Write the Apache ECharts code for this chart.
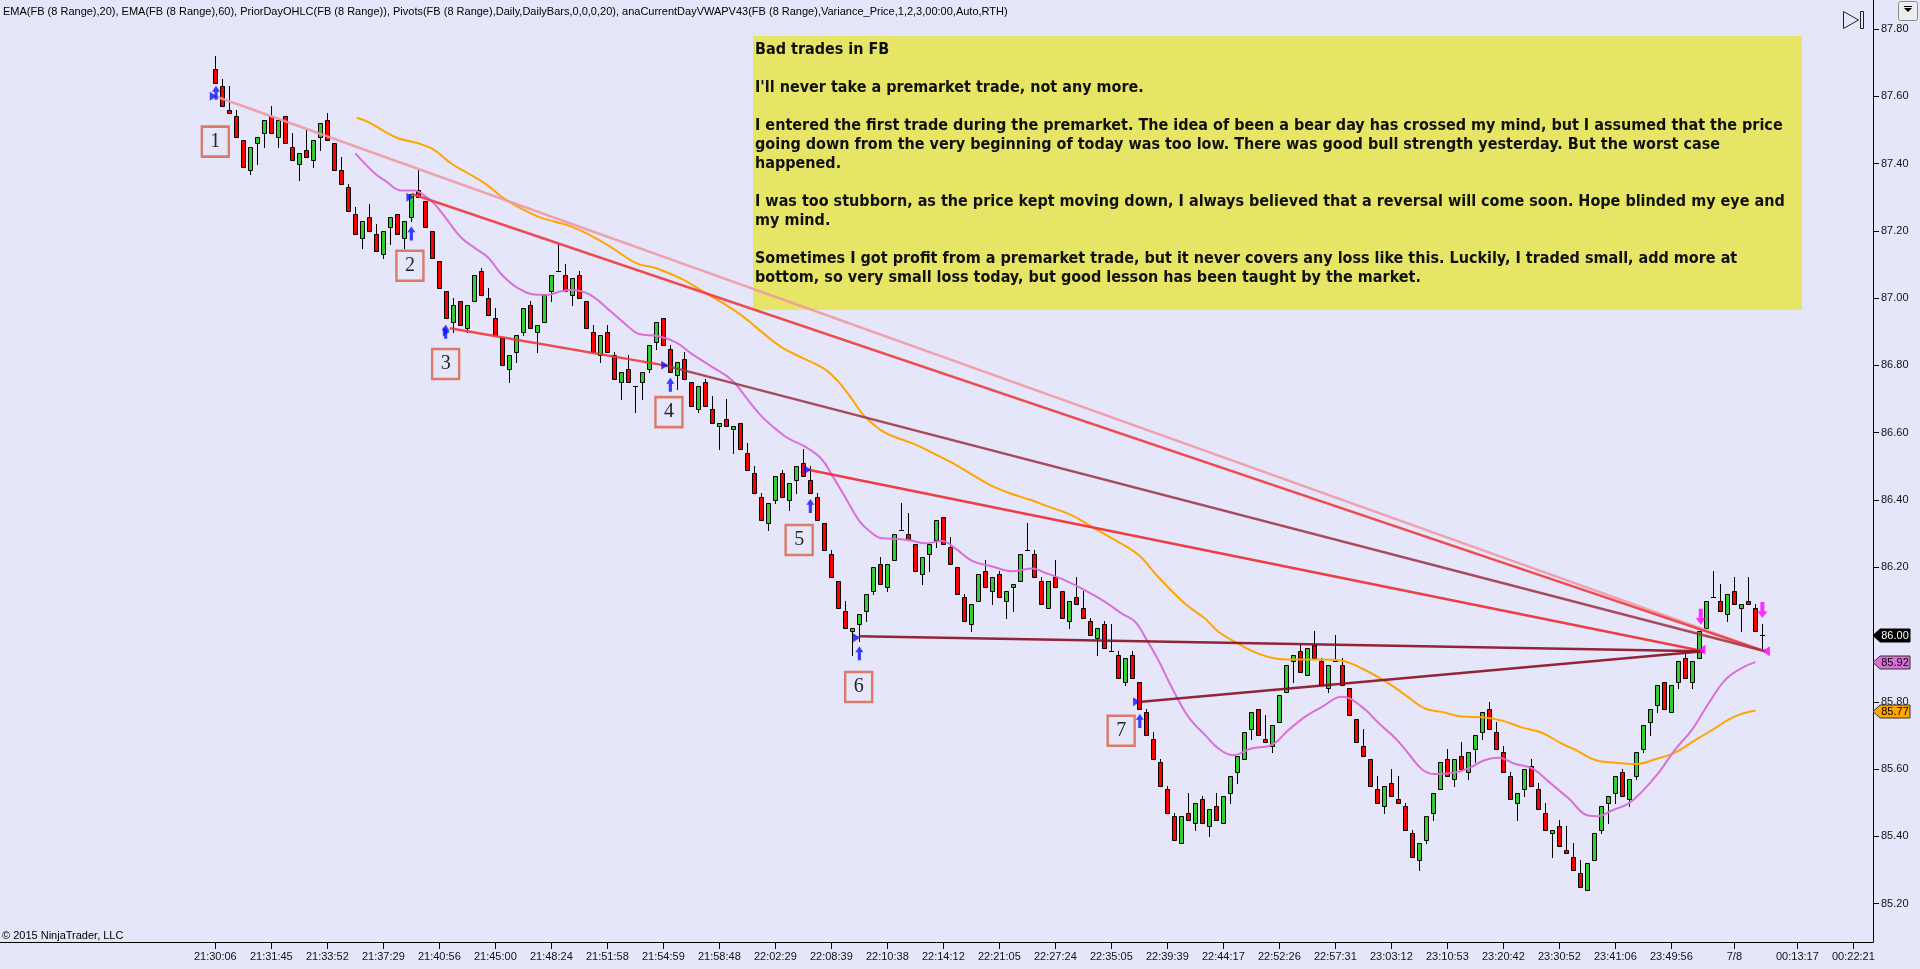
<!DOCTYPE html>
<html><head><meta charset="utf-8">
<script src="https://cdn.jsdelivr.net/npm/echarts@6/dist/echarts.min.js"></script>
<style>html,body{margin:0;padding:0;background:#E6E6FA;overflow:hidden}#c{width:1920px;height:969px}</style>
</head><body><div id="c"></div>
<script>
// ---------- DATA ----------
const opens = [
87.68,87.63,87.56,87.54,87.47,87.38,87.46,87.49,87.54,87.48,
87.54,87.45,87.40,87.44,87.41,87.48,87.53,87.46,87.38,87.33,
87.25,87.18,87.24,87.19,87.13,87.21,87.25,87.18,87.24,87.32,
87.29,87.20,87.11,87.02,86.93,86.99,86.91,86.99,87.08,87.00,
86.94,86.88,86.79,86.84,86.90,86.98,86.90,86.93,87.02,87.08,
87.07,87.01,87.07,86.99,86.90,86.83,86.90,86.83,86.75,86.79,
86.74,86.75,86.79,86.87,86.94,86.85,86.77,86.82,86.75,86.67,
86.75,86.67,86.62,86.64,86.61,86.63,86.54,86.48,86.41,86.33,
86.40,86.48,86.40,86.46,86.51,86.46,86.41,86.33,86.24,86.16,
86.07,86.01,86.03,86.07,86.13,86.21,86.14,86.22,86.31,86.30,
86.27,86.18,86.24,86.28,86.35,86.26,86.20,86.11,86.03,86.10,
86.19,86.13,86.18,86.10,86.14,86.16,86.25,86.24,86.16,86.08,
86.17,86.13,86.04,86.11,86.08,86.04,85.99,86.03,85.95,85.94,
85.86,85.94,85.86,85.77,85.69,85.62,85.54,85.46,85.38,85.47,
85.44,85.51,85.43,85.49,85.44,85.53,85.59,85.63,85.72,85.78,
85.69,85.67,85.74,85.83,85.92,85.95,85.88,85.97,85.92,85.84,
85.92,85.91,85.84,85.75,85.67,85.63,85.54,85.49,85.56,85.51,
85.49,85.41,85.33,85.39,85.47,85.54,85.63,85.57,85.64,85.59,
85.66,85.71,85.78,85.71,85.65,85.58,85.50,85.54,85.61,85.54,
85.47,85.41,85.43,85.36,85.34,85.29,85.24,85.33,85.42,85.50,
85.53,85.59,85.51,85.58,85.66,85.74,85.79,85.86,85.77,85.86,
85.93,85.86,85.93,86.02,86.11,86.10,86.06,86.13,86.08,86.10,
86.08,86.00];
const highs = [
87.72,87.65,87.63,87.56,87.47,87.45,87.48,87.53,87.57,87.53,
87.54,87.49,87.43,87.50,87.47,87.52,87.55,87.46,87.42,87.34,
87.27,87.23,87.28,87.22,87.20,87.24,87.25,87.23,87.31,87.38,
87.29,87.20,87.11,87.02,87.00,86.99,86.98,87.07,87.09,87.03,
86.97,86.88,86.83,86.89,86.97,86.99,86.92,87.01,87.07,87.16,
87.10,87.06,87.08,86.99,86.92,86.89,86.92,86.84,86.78,86.83,
86.74,86.78,86.86,86.93,86.94,86.86,86.81,86.84,86.75,86.74,
86.76,86.71,86.63,86.70,86.62,86.63,86.57,86.50,86.42,86.39,
86.47,86.49,86.45,86.50,86.55,86.50,86.42,86.33,86.25,86.16,
86.10,86.02,86.06,86.12,86.20,86.23,86.21,86.30,86.39,86.36,
86.27,86.23,86.27,86.34,86.35,86.29,86.20,86.12,86.09,86.18,
86.22,86.17,86.19,86.13,86.15,86.24,86.33,86.25,86.17,86.16,
86.22,86.13,86.10,86.17,86.13,86.05,86.02,86.04,86.03,85.95,
85.93,85.95,85.86,85.78,85.71,85.63,85.55,85.47,85.46,85.53,
85.50,85.52,85.48,85.53,85.52,85.58,85.64,85.71,85.77,85.78,
85.76,85.73,85.82,85.91,85.94,85.97,85.96,86.01,85.93,85.91,
86.00,85.93,85.84,85.75,85.72,85.63,85.58,85.55,85.60,85.58,
85.50,85.42,85.38,85.46,85.53,85.62,85.66,85.63,85.68,85.65,
85.70,85.77,85.80,85.74,85.67,85.59,85.53,85.60,85.63,85.56,
85.50,85.42,85.45,85.43,85.38,85.33,85.32,85.41,85.49,85.52,
85.58,85.60,85.57,85.65,85.73,85.78,85.85,85.86,85.85,85.92,
85.95,85.92,86.01,86.10,86.19,86.15,86.12,86.17,86.09,86.17,
86.09,86.03];
const lows = [
87.64,87.57,87.55,87.48,87.39,87.37,87.40,87.45,87.49,87.45,
87.46,87.41,87.35,87.42,87.39,87.44,87.47,87.38,87.34,87.26,
87.19,87.15,87.20,87.14,87.12,87.16,87.19,87.15,87.23,87.30,
87.21,87.12,87.03,86.94,86.90,86.92,86.90,86.99,87.01,86.95,
86.89,86.80,86.75,86.81,86.89,86.91,86.84,86.93,86.99,87.08,
87.02,86.98,87.00,86.91,86.84,86.81,86.84,86.76,86.70,86.75,
86.66,86.70,86.78,86.85,86.86,86.78,86.73,86.76,86.68,86.66,
86.68,86.63,86.55,86.62,86.54,86.55,86.49,86.42,86.34,86.31,
86.39,86.41,86.37,86.42,86.47,86.42,86.34,86.25,86.17,86.08,
86.02,85.94,85.98,86.04,86.12,86.15,86.13,86.22,86.31,86.28,
86.19,86.15,86.19,86.26,86.27,86.21,86.12,86.04,86.01,86.10,
86.14,86.09,86.11,86.05,86.07,86.16,86.25,86.17,86.09,86.08,
86.14,86.05,86.02,86.09,86.05,86.00,85.94,85.96,85.95,85.87,
85.85,85.87,85.78,85.70,85.63,85.55,85.47,85.39,85.38,85.45,
85.42,85.44,85.40,85.45,85.44,85.50,85.56,85.63,85.69,85.70,
85.68,85.65,85.74,85.83,85.86,85.89,85.88,85.93,85.85,85.83,
85.92,85.85,85.76,85.68,85.64,85.55,85.50,85.47,85.52,85.50,
85.42,85.34,85.30,85.38,85.45,85.54,85.58,85.55,85.60,85.57,
85.62,85.69,85.72,85.66,85.59,85.51,85.45,85.52,85.55,85.48,
85.42,85.34,85.37,85.35,85.30,85.25,85.24,85.33,85.41,85.44,
85.50,85.52,85.49,85.57,85.65,85.70,85.77,85.78,85.77,85.84,
85.87,85.84,85.93,86.02,86.11,86.07,86.04,86.09,86.01,86.09,
86.01,85.95];
const closes = [
87.64,87.57,87.55,87.48,87.39,87.45,87.48,87.53,87.49,87.53,
87.46,87.41,87.43,87.42,87.47,87.52,87.47,87.38,87.34,87.26,
87.19,87.23,87.20,87.14,87.20,87.24,87.19,87.23,87.31,87.30,
87.21,87.12,87.03,86.94,86.98,86.92,86.98,87.07,87.01,86.95,
86.89,86.80,86.83,86.89,86.97,86.91,86.92,87.01,87.07,87.08,
87.02,87.06,87.00,86.91,86.84,86.89,86.84,86.76,86.78,86.75,
86.74,86.78,86.86,86.93,86.86,86.78,86.81,86.76,86.68,86.74,
86.68,86.63,86.63,86.62,86.62,86.55,86.49,86.42,86.34,86.39,
86.47,86.41,86.45,86.50,86.47,86.42,86.34,86.25,86.17,86.08,
86.02,86.02,86.06,86.12,86.20,86.15,86.21,86.30,86.31,86.28,
86.19,86.23,86.27,86.34,86.27,86.21,86.12,86.04,86.09,86.18,
86.14,86.17,86.11,86.13,86.15,86.24,86.25,86.17,86.09,86.16,
86.14,86.05,86.10,86.09,86.05,86.00,86.02,85.96,85.95,85.87,
85.93,85.87,85.78,85.70,85.63,85.55,85.47,85.39,85.46,85.45,
85.50,85.44,85.48,85.45,85.52,85.58,85.64,85.71,85.77,85.70,
85.68,85.73,85.82,85.91,85.94,85.89,85.96,85.93,85.85,85.91,
85.92,85.85,85.76,85.68,85.64,85.55,85.50,85.55,85.52,85.50,
85.42,85.34,85.38,85.46,85.53,85.62,85.58,85.63,85.60,85.65,
85.70,85.77,85.72,85.66,85.59,85.51,85.53,85.60,85.55,85.48,
85.42,85.42,85.37,85.35,85.30,85.25,85.32,85.41,85.49,85.52,
85.58,85.52,85.57,85.65,85.73,85.78,85.85,85.78,85.85,85.92,
85.87,85.92,86.01,86.10,86.11,86.07,86.12,86.09,86.09,86.09,
86.01,86.00];

const tickIndex = [0,8,16,24,32,40,48,56,64,72,80,88,96,104,112,120,128,136,144,152,160,168,176,184,192,200,208,217,226,234];
const tickLabels = ['21:30:06','21:31:45','21:33:52','21:37:29','21:40:56','21:45:00','21:48:24','21:51:58','21:54:59','21:58:48',
  '22:02:29','22:08:39','22:10:38','22:14:12','22:21:05','22:27:24','22:35:05','22:39:39','22:44:17','22:52:26',
  '22:57:31','23:03:12','23:10:53','23:20:42','23:30:52','23:41:06','23:49:56','7/8','00:13:17','00:22:21'];
const priceTicks = [85.2,85.4,85.6,85.8,86.0,86.2,86.4,86.6,86.8,87.0,87.2,87.4,87.6,87.8];

// EMA(20) - violet
const ema20 = [[20,87.43],[22.8,87.37],[24.2,87.35],[26.6,87.32],[28.5,87.32],[29.5,87.31],[31.3,87.28],[33.2,87.23],[35.1,87.18],[37,87.15],
 [39,87.12],[40.9,87.07],[43.2,87.03],[46,87.01],[47.5,87.01],[49.4,87.02],[51,87.024],[53.5,87.01],[56.5,86.96],[59,86.915],
 [60.5,86.893],[63.2,86.887],[65.8,86.868],[68,86.835],[70.9,86.796],[73.8,86.756],[76.1,86.697],[78.1,86.647],[80,86.612],[81.9,86.582],
 [84.1,86.56],[86.5,86.524],[88.2,86.47],[90.2,86.40],[91.9,86.34],[93.3,86.31],[95.2,86.286],[97.6,86.284],[99.5,86.279],[101.4,86.271],
 [103.8,86.278],[105.7,86.256],[108.1,86.219],[110.9,86.203],[113.8,86.188],[116.7,86.196],[118.6,86.183],[121.4,86.161],[124.2,86.132],[127.1,86.097],
 [129.5,86.062],[131.4,86.038],[132.8,85.993],[134.7,85.924],[136.6,85.844],[139,85.755],[141.4,85.701],[143.3,85.661],[145.4,85.641],[148,85.661],
 [150.9,85.672],[153.3,85.716],[155.7,85.756],[158.1,85.785],[160.9,85.815],[163.8,85.785],[166.2,85.736],[168.6,85.691],[170.4,85.647],[172.4,85.599],
 [174.2,85.585],[177.1,85.590],[179,85.602],[181.4,85.627],[183.3,85.634],[185.7,85.615],[188.1,85.602],[190.5,85.562],[193.3,85.513],[196.1,85.462],
 [197.5,85.460],[199.5,85.477],[201.9,85.498],[203.8,85.533],[206.1,85.587],[208.5,85.657],[210.9,85.716],[213.3,85.795],[215.7,85.865],[218.1,85.901],[220,85.918]];
// EMA(60) - orange
const ema60 = [[20.2,87.536],[21.8,87.524],[24.2,87.495],[26.1,87.475],[29,87.46],[31.3,87.44],[33.7,87.40],[36.1,87.371],[38.5,87.341],[40.9,87.301],
 [42.8,87.276],[46.1,87.242],[48.5,87.227],[50.7,87.214],[53.5,87.187],[56.4,87.153],[60.2,87.103],[63.1,87.088],[66.9,87.054],[69.7,87.019],
 [72.6,86.984],[75.4,86.945],[78.3,86.895],[81.1,86.851],[84,86.821],[86.9,86.791],[88.8,86.756],[90.7,86.707],[92.6,86.652],[95.4,86.603],
 [98.3,86.578],[100.2,86.563],[103,86.534],[105.4,86.509],[107.8,86.479],[110.7,86.444],[113.5,86.420],[116.6,86.399],[118.5,86.384],[122.3,86.355],
 [125.2,86.320],[129,86.275],[131.9,86.236],[134.7,86.171],[138.5,86.092],[141.4,86.047],[143.3,86.008],[146.1,85.973],[149,85.943],[151.4,85.929],
 [154.2,85.926],[158.1,85.926],[160.9,85.922],[163.8,85.899],[167.6,85.855],[170,85.820],[172.8,85.780],[175.2,85.770],[178.1,85.756],[181,85.754],
 [183.8,85.744],[186.6,85.724],[189.5,85.708],[192.3,85.676],[194.5,85.655],[197.1,85.627],[200,85.619],[202.8,85.615],[205.7,85.629],[208.5,85.649],
 [211.4,85.686],[214.2,85.721],[217,85.756],[220,85.774]];

// trade execution lines: [barIndex, price] start -> end
const tradeStarts = [[0,87.60],[28,87.31],[33.5,86.91],[64.2,86.80],[84.7,86.49],[91.9,85.995],[132.3,85.80]];
const tradeEnds   = [[221.4,85.95],[221.4,85.95],[64.2,86.80],[221.4,85.95],[212.6,85.95],[212.6,85.95],[212.6,85.95]];
const entryMarks = [[-0.3,87.60],[27.8,87.30],[33.0,86.90],[64.2,86.80],[84.6,86.49],[91.6,85.99],[131.6,85.80]];
const entryArrows = [[0.1,87.61],[28,87.192],[32.9,86.90],[65,86.742],[85,86.382],[92,85.944],[132.06,85.743]];
const exitArrows = [[212.2,86.053],[221.0,86.073]];
const exitMarks = [[212.3,85.955],[221.5,85.95]];
const tradeNumbers = ['1','2','3','4','5','6','7'];
const numberPos = [[0,87.465],[27.8,87.096],[32.9,86.804],[64.8,86.661],[83.4,86.281],[91.9,85.844],[129.4,85.714]];

const headerText = 'EMA(FB (8 Range),20), EMA(FB (8 Range),60), PriorDayOHLC(FB (8 Range)), Pivots(FB (8 Range),Daily,DailyBars,0,0,0,20), anaCurrentDayVWAPV43(FB (8 Range),Variance_Price,1,2,3,00:00,Auto,RTH)';
const noteLines = [
 'Bad trades in FB','',
 "I'll never take a premarket trade, not any more.",'',
 'I entered the first trade during the premarket. The idea of been a bear day has crossed my mind, but I assumed that the price',
 'going down from the very beginning of today was too low. There was good bull strength yesterday. But the worst case',
 'happened.','',
 'I was too stubborn, as the price kept moving down, I always believed that a reversal will come soon. Hope blinded my eye and',
 'my mind.','',
 'Sometimes I got profit from a premarket trade, but it never covers any loss like this. Luckily, I traded small, add more at',
 'bottom, so very small loss today, but good lesson has been taught by the market.'];
const copyright = '\u00A9 2015 NinjaTrader, LLC';

// ---------- CHART ----------
const tradeColors = ['#EE9AA2','#EE3A3E','#EE3A3E','#A03A48','#EE2A30','#8A0E22','#8A0E22'];
const chart = echarts.init(document.getElementById('c'), null, {renderer:'canvas'});
const candles = opens.map((o,i)=>[i,o,highs[i],lows[i],closes[i]]);
const FONT = '"Liberation Sans", Arial, sans-serif';

function renderCandle(params, api){
  const x=api.value(0), o=api.value(1), h=api.value(2), l=api.value(3), c=api.value(4);
  const pO=api.coord([x,o]), pC=api.coord([x,c]), pH=api.coord([x,h]), pL=api.coord([x,l]);
  const px=Math.round(pO[0]);
  const cx=px+0.5;
  const ch=[{type:'line',shape:{x1:cx,y1:Math.round(pH[1]),x2:cx,y2:Math.round(pL[1])+1},style:{stroke:'#000',lineWidth:1}}];
  if (Math.abs(o-c)<1e-9){
    const y=Math.round(pO[1])+0.5;
    ch.push({type:'line',shape:{x1:px-2,y1:y,x2:px+3,y2:y},style:{stroke:'#000',lineWidth:1}});
  } else {
    const t=Math.round(Math.min(pO[1],pC[1]))+0.5, b=Math.round(Math.max(pO[1],pC[1]))+0.5;
    ch.push({type:'rect',shape:{x:px-1.5,y:t,width:4,height:b-t},style:{fill:c>o?'#32CD32':'#FF0000',stroke:'#000',lineWidth:1}});
  }
  return {type:'group',children:ch};
}

const series = [
  {type:'custom',name:'bars',renderItem:renderCandle,data:candles,encode:{x:0,y:[1,2,3,4]},clip:true,z:2},
  {type:'line',name:'EMA60',data:ema60,smooth:0.4,symbol:'none',lineStyle:{color:'#FFA500',width:2},z:3},
  {type:'line',name:'EMA20',data:ema20,smooth:0.4,symbol:'none',lineStyle:{color:'#DA70D6',width:2},z:3}
];
tradeStarts.forEach((s,k)=>{
  series.push({type:'line',data:[s,tradeEnds[k]],symbol:'none',lineStyle:{color:tradeColors[k],width:2.5,opacity:0.9},z:4});
});
series.push({type:'scatter',data:entryMarks,symbol:'triangle',symbolRotate:-90,symbolSize:[9,7],itemStyle:{color:'#1010FF'},z:6});
series.push({type:'scatter',data:entryArrows,symbol:'path://M4,0L8,5L5.6,5L5.6,12L2.4,12L2.4,5L0,5Z',symbolSize:[8,14],itemStyle:{color:'#1010FF'},z:6});
series.push({type:'scatter',data:exitArrows,symbol:'path://M4,0L8,5L5.6,5L5.6,12L2.4,12L2.4,5L0,5Z',symbolRotate:180,symbolSize:[10,16],itemStyle:{color:'#FF00FF'},z:6});
series.push({type:'scatter',data:exitMarks,symbol:'triangle',symbolRotate:90,symbolSize:[10,8],itemStyle:{color:'#FF00FF'},z:6});
series.push({type:'scatter',data:numberPos.map((p,k)=>({value:p,name:tradeNumbers[k]})),symbol:'rect',symbolSize:[27,30],
  itemStyle:{color:'rgba(0,0,0,0)',borderColor:'#DB7A66',borderWidth:2.5,opacity:1},
  label:{show:true,position:'inside',formatter:'{b}',fontFamily:'"Liberation Serif","DejaVu Serif",serif',fontSize:20,color:'#262626'},z:5});

chart.setOption({
  animation:false,
  backgroundColor:'#E6E6FA',
  grid:{left:0,right:47,top:0,bottom:27,containLabel:false,outerBoundsMode:'none'},
  xAxis:{type:'value',min:-30.76,max:236.8,
    axisLine:{show:true,onZero:false,lineStyle:{color:'#000',width:1}},
    axisTick:{show:true,length:7,lineStyle:{color:'#000'},customValues:tickIndex},
    axisLabel:{show:true,customValues:tickIndex,margin:9,fontSize:11,fontFamily:FONT,color:'#111',
      formatter:(v)=>{const k=tickIndex.indexOf(Math.round(v));return k>=0?tickLabels[k]:'';}},
    splitLine:{show:false}},
  yAxis:{type:'value',position:'right',min:85.086,max:87.886,
    axisLine:{show:true,onZero:false,lineStyle:{color:'#000',width:1}},
    axisTick:{show:true,length:6,inside:false,lineStyle:{color:'#000'},customValues:priceTicks},
    axisLabel:{show:true,customValues:priceTicks,margin:8,fontSize:11,fontFamily:FONT,color:'#111',formatter:(v)=>v.toFixed(2)},
    splitLine:{show:false}},
  series:series
});

// overlays: note box, header, axis price markers, icons
const axX = chart.convertToPixel({xAxisIndex:0}, 236.8);
const lastClose = closes[closes.length-1];
const markers = [
  {v:lastClose, fill:'#000', text:'#fff', stroke:'#000'},
  {v:ema20[ema20.length-1][1], fill:'#DA70D6', text:'#000', stroke:'#333'},
  {v:ema60[ema60.length-1][1], fill:'#FFA500', text:'#000', stroke:'#333'}
];
const gfx = [
  {type:'rect',shape:{x:753,y:36,width:1049,height:274},style:{fill:'#E6E566'},z:0,silent:true},
  {type:'text',x:755,y:40,z:1,silent:true,style:{text:noteLines.join('\n'),fontFamily:'"DejaVu Sans Condensed","DejaVu Sans",sans-serif',
    fontWeight:'bold',fontSize:16,lineHeight:19,fill:'#111',textVerticalAlign:'top'}},
  {type:'text',x:3,y:12,z:10,silent:true,style:{text:headerText,fontFamily:FONT,fontSize:11,fill:'#000',textVerticalAlign:'middle'}},
  {type:'text',x:2,y:936,z:10,silent:true,style:{text:copyright,fontFamily:FONT,fontSize:11,fill:'#000',textVerticalAlign:'middle'}},
  {type:'polygon',shape:{points:[[1843.5,11.5],[1858.5,20],[1843.5,28.5]]},style:{fill:'none',stroke:'#222',lineWidth:1},z:10},
  {type:'rect',shape:{x:1860.5,y:11.5,width:3,height:17},style:{fill:'none',stroke:'#222',lineWidth:1},z:10},
  {type:'rect',shape:{x:1898.5,y:1.5,width:19,height:19,r:2},style:{fill:'#EDEDED',stroke:'#8A8A8A',lineWidth:1},z:10},
  {type:'polygon',shape:{points:[[1904,8],[1912,8],[1908,12]]},style:{fill:'#000'},z:11},
  {type:'line',shape:{x1:1904,y1:6.5,x2:1912,y2:6.5},style:{stroke:'#000',lineWidth:1},z:11}
];
markers.forEach(m=>{
  const y=Math.round(chart.convertToPixel({yAxisIndex:0}, m.v))+0.5;
  gfx.push({type:'polygon',z:20,shape:{points:[[axX,y],[axX+7,y-6.5],[axX+37,y-6.5],[axX+37,y+6.5],[axX+7,y+6.5]]},
    style:{fill:m.fill,stroke:m.stroke,lineWidth:1}});
  gfx.push({type:'text',z:21,x:axX+22,y:y,style:{text:m.v.toFixed(2),fontFamily:FONT,fontSize:11,fill:m.text,align:'center',verticalAlign:'middle'}});
});
chart.setOption({graphic:gfx});
</script>
</body></html>
